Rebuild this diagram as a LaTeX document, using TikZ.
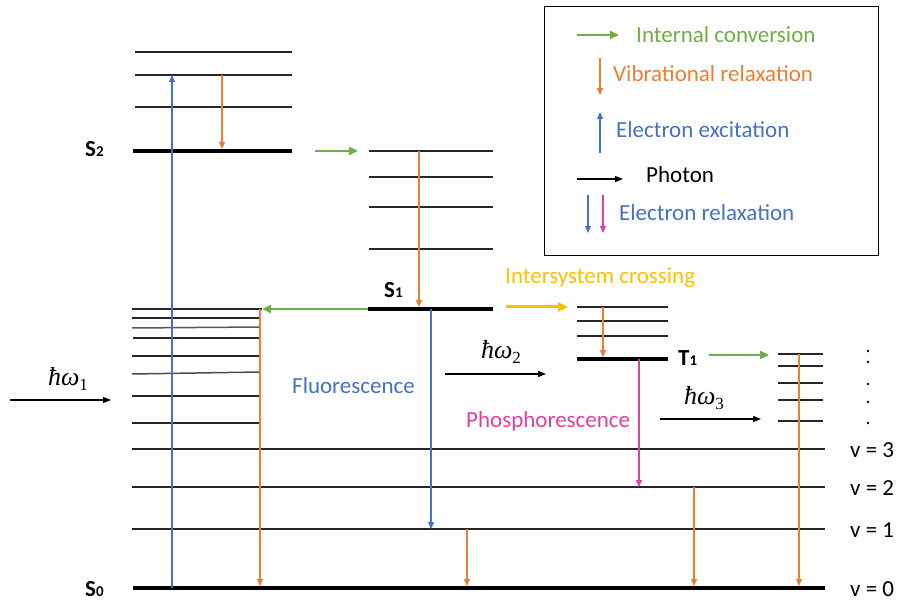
\documentclass[tikz,border=0pt]{standalone}
\usepackage{fontspec}
\setmainfont{Carlito}
\newfontfamily\quantfont{Liberation Serif}
\usetikzlibrary{arrows.meta}
\definecolor{icgreen}{RGB}{112,173,71}
\definecolor{vrorange}{RGB}{237,125,49}
\definecolor{exblue}{RGB}{68,114,196}
\definecolor{iscyellow}{RGB}{255,192,0}
\definecolor{phpink}{RGB}{224,64,160}
\newcommand{\lvlname}[2]{\textbf{#1}{\fontsize{15}{17}\selectfont\textbf{#2}}}
\newcommand{\photonE}[1]{{\quantfont\itshape ħω}\raisebox{-5pt}{\quantfont\fontsize{17}{19}\selectfont #1}}
\begin{document}
\begin{tikzpicture}[x=1pt,y=-1pt,
  level/.style={line width=1.5pt,black!85},
  thicklevel/.style={line width=4.5pt,black},
  tip/.style={-{Triangle[length=7pt,width=6pt]}},
  vibrel/.style={tip,vrorange,line width=1.3pt},
  excite/.style={tip,exblue,line width=1.3pt},
  relaxpink/.style={tip,phpink,line width=1.3pt},
  intconv/.style={-{Triangle[length=9pt,width=8pt]},icgreen,line width=2.6pt},
  isc/.style={-{Triangle[length=10pt,width=9pt]},iscyellow,line width=3pt},
  photon/.style={-{Triangle[length=8pt,width=6pt]},black,line width=1.3pt},
  txt/.style={font=\fontsize{23}{27}\selectfont,inner sep=0pt,anchor=base west},
  mtxt/.style={font=\fontsize{26}{30}\selectfont,inner sep=0pt,anchor=base},
  vdot/.style={circle,fill=black,inner sep=0pt,minimum size=2.6pt}]
\useasboundingbox (0,0) rectangle (899,601);

% ---- S2 manifold ----
\draw[level] (135,52) -- (292,52);
\draw[level] (135,75) -- (292,75);
\draw[level] (135,107) -- (292,107);
\draw[thicklevel] (133,151) -- (292,151);
\node[txt] (s2) at (85,157) {\lvlname{S}{2}};

% ---- S1 manifold (upper position) ----
\draw[level] (369,151) -- (493,151);
\draw[level] (369,177) -- (493,177);
\draw[level] (369,207) -- (493,207);
\draw[level] (369,249) -- (493,249);
\draw[thicklevel] (368,309) -- (493,309);
\node[txt] (s1) at (384,298) {\lvlname{S}{1}};

% ---- vibrational levels above S0 (left) ----
\draw[level] (132,309) -- (262,309);
\draw[level] (132,318) -- (260,318);
\draw[level,black!65] (132,328) -- (260,327);
\draw[level] (133,338) -- (260,338);
\draw[level] (132,356) -- (260,356);
\draw[level,black!70] (132,374) -- (260,372);
\draw[level] (132,396) -- (260,396);
\draw[level] (132,423) -- (260,423);

% ---- T1 manifold ----
\draw[level] (577,307) -- (668,307);
\draw[level] (577,321) -- (668,321);
\draw[level] (577,336) -- (668,336);
\draw[thicklevel] (577,359) -- (668,359);
\node[txt] (t1) at (678,365) {\lvlname{T}{1}};

% ---- vibrational levels on the right ----
\draw[level] (778,354) -- (823,354);
\draw[level] (778,366) -- (823,366);
\draw[level] (778,383) -- (823,383);
\draw[level] (778,400) -- (823,400);
\draw[level] (778,421) -- (823,421);
\node[vdot] (d1) at (868,351) {};
\node[vdot] (d2) at (868,362) {};
\node[vdot] (d3) at (868,384) {};
\node[vdot] (d4) at (868,402) {};
\node[vdot] (d5) at (868,423) {};

% ---- ground state S0 and its vibrational levels ----
\draw[level] (132,449) -- (825,449);
\draw[level] (132,487) -- (825,487);
\draw[level] (132,529) -- (825,529);
\draw[thicklevel] (133,588) -- (825,588);
\node[txt] (s0) at (85,596) {\lvlname{S}{0}};
\node[txt] (v3) at (850,457) {v = 3};
\node[txt] (v2) at (850,495) {v = 2};
\node[txt] (v1) at (850,537) {v = 1};
\node[txt] (v0) at (850,596) {v = 0};

% ---- transition end points ----
\coordinate (exA) at (172,588);   \coordinate (exB) at (172,75);
\coordinate (vrA) at (222,75);    \coordinate (vrB) at (222,149);
\coordinate (icA) at (315,151);   \coordinate (icB) at (358,151);
\coordinate (vsA) at (419,151);   \coordinate (vsB) at (419,307);
\coordinate (icC) at (368,309);   \coordinate (icD) at (262,309);
\coordinate (fA)  at (431,309);   \coordinate (fB)  at (431,529);
\coordinate (iscA) at (506,307);  \coordinate (iscB) at (568,307);
\coordinate (vtA) at (603,307);   \coordinate (vtB) at (603,357);
\coordinate (pA)  at (639,359);   \coordinate (pB)  at (639,487);
\coordinate (icE) at (709,355);   \coordinate (icF) at (769,355);
\coordinate (vlA) at (260,309);   \coordinate (vlB) at (260,586);
\coordinate (v1A) at (467,529);   \coordinate (v1B) at (467,586);
\coordinate (v2A) at (694,487);   \coordinate (v2B) at (694,586);
\coordinate (vrR) at (799,354);   \coordinate (vrS) at (799,586);
\coordinate (ph1A) at (10,400);   \coordinate (ph1B) at (111,400);
\coordinate (ph2A) at (445,374);  \coordinate (ph2B) at (546,374);
\coordinate (ph3A) at (660,419);  \coordinate (ph3B) at (761,419);

% ---- transitions ----
\draw[excite] (exA) -- (exB);
\draw[vibrel] (vrA) -- (vrB);
\draw[intconv] (icA) -- (icB);
\draw[vibrel] (vsA) -- (vsB);
\draw[intconv] (icC) -- (icD);
\draw[excite] (fA) -- (fB);
\draw[isc] (iscA) -- (iscB);
\draw[vibrel] (vtA) -- (vtB);
\draw[relaxpink] (pA) -- (pB);
\draw[intconv] (icE) -- (icF);
\draw[vibrel] (vlA) -- (vlB);
\draw[vibrel] (v1A) -- (v1B);
\draw[vibrel] (v2A) -- (v2B);
\draw[vibrel] (vrR) -- (vrS);

% ---- photons ----
\draw[photon] (ph1A) -- (ph1B);
\draw[photon] (ph2A) -- (ph2B);
\draw[photon] (ph3A) -- (ph3B);
\node[mtxt] (hw1) at (68,385) {\photonE{1}};
\node[mtxt] (hw2) at (501,359) {\photonE{2}};
\node[mtxt] (hw3) at (704,404) {\photonE{3}};

% ---- process labels ----
\node[txt,text=exblue] (fluo) at (292,393) {Fluorescence};
\node[txt,text=phpink] (phos) at (466,427) {Phosphorescence};
\node[txt,text=iscyellow] (isct) at (505,284) {Intersystem crossing};

% ---- legend ----
\node[draw=black,line width=1.3pt,minimum width=334pt,minimum height=249pt,
      anchor=north west,inner sep=0pt] (legend) at (544,6) {};
\coordinate (lgA) at (577,35);  \coordinate (lgB) at (619,35);
\coordinate (lgC) at (600,58);  \coordinate (lgD) at (600,95);
\coordinate (lgE) at (600,153); \coordinate (lgF) at (600,112);
\coordinate (lgG) at (577,179); \coordinate (lgH) at (623,179);
\coordinate (lgI) at (588,195); \coordinate (lgJ) at (588,233);
\coordinate (lgK) at (603,195); \coordinate (lgL) at (603,233);
\draw[intconv,line width=2.4pt] (lgA) -- (lgB);
\draw[vibrel] (lgC) -- (lgD);
\draw[excite] (lgE) -- (lgF);
\draw[photon] (lgG) -- (lgH);
\draw[excite] (lgI) -- (lgJ);
\draw[relaxpink] (lgK) -- (lgL);
\node[txt,text=icgreen] (lic) at (636,43) {Internal conversion};
\node[txt,text=vrorange] (lvr) at (613,82) {Vibrational relaxation};
\node[txt,text=exblue] (lex) at (616,138) {Electron excitation};
\node[txt] (lph) at (646,183) {Photon};
\node[txt,text=exblue] (lrel) at (619,221) {Electron relaxation};
\end{tikzpicture}
\end{document}
